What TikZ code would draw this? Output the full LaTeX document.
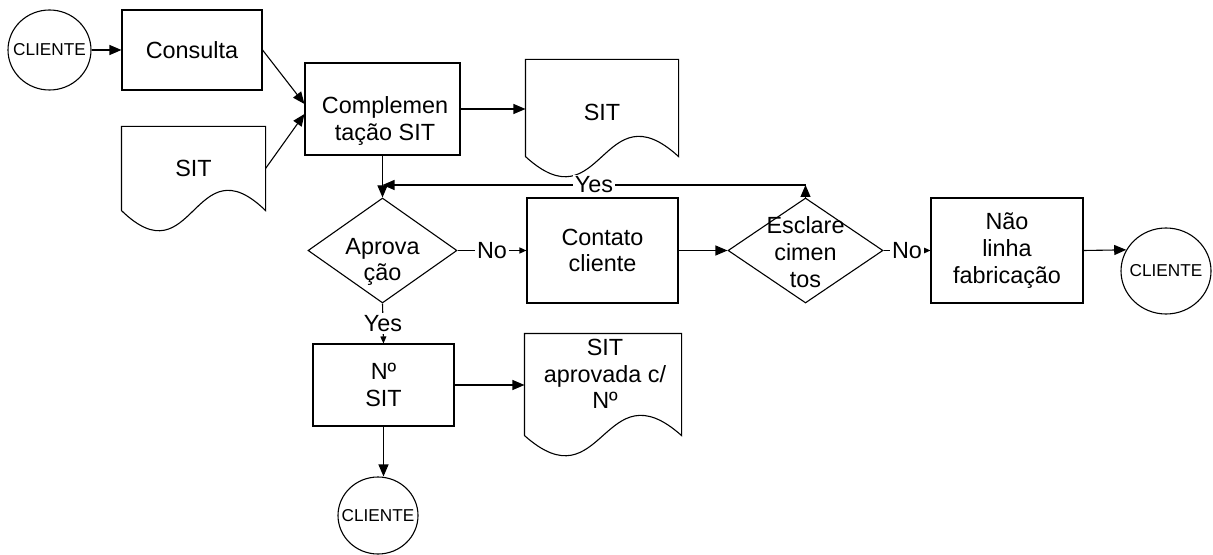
\documentclass[tikz,border=0pt]{standalone}
\usepackage{fontspec}
\setmainfont{Liberation Sans}
\usetikzlibrary{shapes.geometric,arrows.meta,calc}
\newcommand\docoutline[1]{%
  \draw (#1.south west) -- (#1.north west) -- (#1.north east) -- (#1.south east)
    .. controls ($(#1.south)+(0,-70)$) and ($(#1.south)+(0,70)$) .. (#1.south west);}
\tikzset{
  wh/.style n args={2}{minimum width={#1*0.5pt},minimum height={#2*0.5pt}},
  box/.style={draw,rectangle,inner sep=0pt,align=center},
  docbox/.style={rectangle,inner sep=0pt,align=center},
  dec/.style={draw,diamond,inner sep=0pt},
  term/.style={draw,ellipse,inner sep=0pt},
  txt/.style={align=center,inner sep=0pt},
  cltxt/.style={inner sep=0pt,font=\fontsize{8.6}{10}\selectfont},
  arr/.style={-{Triangle[length=6pt,width=5pt]}},
  sarr/.style={-{Triangle[length=3.5pt,width=3pt]}},
  lbl/.style={fill=white,inner sep=1pt}
}
\begin{document}
\begin{tikzpicture}[x=0.5pt,y=-0.5pt,
  line width=0.55pt,
  font=\fontsize{11.7}{13.4}\selectfont]
\useasboundingbox (0,0) rectangle (1213,555);

% nodes
\node[term,wh={83}{80}] (cli1) at (49.5,50) {};
\node[cltxt] (cli1t) at (cli1) {CLIENTE};
\node[box,wh={140}{80}] (consulta) at (192,50) {Consulta};
\node[docbox,wh={143}{83}] (sit1) at (193.5,168.5) {SIT};
\node[box,wh={155}{92}] (compl) at (382.5,109) {};
\node[txt] (complt) at (385,121) {Complemen\\tação SIT};
\node[docbox,wh={152}{96}] (sit2) at (602,108) {};
\node[txt] (sit2t) at (602,112) {SIT};
\node[dec,wh={149}{105}] (aprov) at (382.5,250.5) {};
\node[txt] (aprovt) at (382.5,262) {Aprova\\ção};
\node[box,wh={151}{105}] (contato) at (602.5,250.5) {Contato\\cliente};
\node[dec,wh={155}{105}] (escl) at (805.5,250.5) {};
\node[txt] (esclt) at (805.5,252) {Esclare\\cimen\\tos};
\node[box,wh={152}{105}] (nao) at (1007,250.5) {Não\\linha\\fabricação};
\node[term,wh={90}{86}] (cli2) at (1166,271) {};
\node[cltxt] (cli2t) at (cli2) {CLIENTE};
\node[box,wh={141}{82}] (nsit) at (383.5,385) {Nº\\SIT};
\node[docbox,wh={156}{101}] (sit3) at (603,384.5) {};
\node[txt] (sit3t) at (605,374) {SIT\\aprovada c/\\Nº};
\node[term,wh={80}{77}] (cli3) at (378,515.5) {};
\node[cltxt] (cli3t) at (cli3) {CLIENTE};

% document outlines
\docoutline{sit1}
\docoutline{sit2}
\docoutline{sit3}

% connectors
\draw[arr] (cli1.east) -- (consulta.west);
\draw[arr] (consulta.east) -- ($(compl.west)+(0,-5)$);
\draw[arr] (sit1.east) -- ($(compl.west)+(0,5)$);
\draw[arr] (compl.east) -- (compl.east -| sit2.west);
\draw[arr] (compl.south) -- (aprov.north);
\coordinate (j) at (382.5,185);
\coordinate (k) at (escl.north |- j);
\draw[arr] (escl.north) -- (k);
\draw[arr] (k) -- node[lbl]{Yes} (j);
\draw[sarr] (aprov.east) -- node[lbl]{No} (contato.west);
\draw[arr] (contato.east) -- (escl.west);
\draw[sarr] (escl.east) -- node[lbl]{No} (nao.west);
\draw[arr] (nao.east) -- (cli2.152);
\draw[sarr] (aprov.south) -- node[lbl]{Yes} (nsit.north);
\draw[arr] (nsit.east) -- (nsit.east -| sit3.west);
\draw[arr] (nsit.south) -- (nsit.south |- cli3.north);
\end{tikzpicture}
\end{document}
